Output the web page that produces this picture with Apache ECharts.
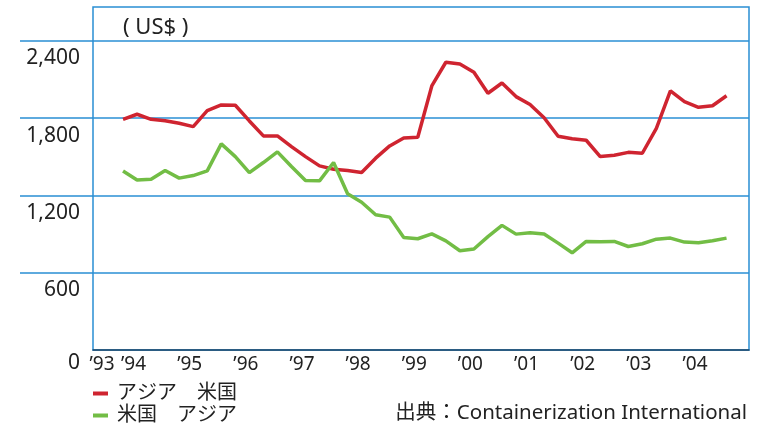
<!DOCTYPE html>
<html>
<head>
<meta charset="utf-8">
<script src="https://cdn.jsdelivr.net/npm/echarts@6/dist/echarts.min.js"></script>
<style>
  html, body { margin: 0; padding: 0; background: #fff; }
  #chart { width: 766px; height: 427px; }
</style>
</head>
<body>
<div id="chart"></div>
<script>
// 四半期ごとの運賃 (US$/TEU)  1994Q1 - 2004Q4
const asiaToUs = [
  1792, 1831, 1792, 1781, 1761, 1735, 1859, 1903, 1901, 1779, 1663, 1663,
  1580, 1502, 1430, 1404, 1394, 1378, 1490, 1585, 1647, 1653, 2051, 2235,
  2221, 2157, 1994, 2074, 1968, 1906, 1804, 1660, 1640, 1629, 1502, 1513,
  1535, 1528, 1722, 2012, 1929, 1885, 1897, 1975
]
const usToAsia = [
  1391, 1321, 1327, 1394, 1335, 1355, 1391, 1601, 1502, 1378, 1456, 1539,
  1425, 1316, 1314, 1456, 1213, 1148, 1050, 1032, 874, 864, 902, 848,
  771, 784, 881, 968, 900, 910, 901, 830, 755, 843, 840, 843,
  804, 825, 861, 869, 838, 833, 848, 869
]
const yearLabels = ['’93', '’94', '’95', '’96', '’97', '’98', '’99', '’00', '’01', '’02', '’03', '’04']
const yTicks = [0, 600, 1200, 1800, 2400]
const seriesNames = ['アジア　米国', '米国　アジア']

const chart = echarts.init(document.getElementById('chart'))

// 年ラベルの位置（四半期インデックス上）
const labelPos = yearLabels.map((_, k) => (k === 0 ? -1.5 : (k - 1) * 4 + 0.75))

const blue = '#2a8fd4'
const font = '"Noto Sans", "Noto Sans CJK JP", sans-serif'

chart.setOption({
  animation: false,
  title: {
    text: '( US$ )',
    left: 118,
    top: 12,
    textStyle: { fontFamily: font, fontSize: 22, fontWeight: 'normal', color: '#222' },
  },
  legend: {
    orient: 'vertical',
    left: 93,
    top: 383,
    height: 44,
    padding: 0,
    itemWidth: 15,
    itemHeight: 4,
    itemGap: 1,
    icon: 'rect',
    textStyle: { fontFamily: font, fontSize: 20, color: '#222', lineHeight: 21, padding: [0, 0, 0, 4] },
    data: seriesNames,
  },
  graphic: [{
    type: 'text',
    right: 19,
    top: 403,
    style: { text: '出典：Containerization International', fontFamily: font, fontSize: 20.5, fill: '#222' },
  }],
  grid: {
    left: 93, right: 17, top: 7, bottom: 77,
    show: true, borderColor: blue, borderWidth: 1.5,
  },
  xAxis: {
    type: 'value',
    min: -2.14,
    max: 44.6,
    axisLine: { show: true, onZero: false, lineStyle: { color: '#1d4466', width: 1.5 } },
    axisTick: { show: false },
    splitLine: { show: false },
    axisLabel: {
      customValues: labelPos,
      margin: 5,
      fontFamily: font,
      fontSize: 19,
      color: '#222',
      formatter: (v) => {
        let best = 0
        labelPos.forEach((p, i) => { if (Math.abs(p - v) < Math.abs(labelPos[best] - v)) best = i })
        return yearLabels[best]
      },
    },
  },
  yAxis: {
    type: 'value',
    min: 0,
    max: 2664,
    axisLine: { show: false, onZero: false },
    axisTick: {
      show: true,
      inside: false,
      customValues: yTicks.slice(1),
      length: 73,
      lineStyle: { color: blue, width: 1.5 },
    },
    splitLine: { show: true, lineStyle: { color: blue, width: 1.5 } },
    axisLabel: {
      customValues: yTicks,
      margin: 13,
      fontFamily: font,
      fontSize: 21,
      color: '#222',
      formatter: (v) => (v === 0 ? '{z|0}' : '{n|' + v.toLocaleString('en-US') + '}'),
      rich: {
        n: { fontFamily: font, fontSize: 21, color: '#222', padding: [35, 0, 0, 0] },
        z: { fontFamily: font, fontSize: 21, color: '#222', padding: [27, 0, 0, 0] },
      },
    },
  },
  series: [
    {
      name: seriesNames[0],
      type: 'line',
      showSymbol: false,
      color: '#cf2430',
      lineStyle: { width: 3.5, color: '#cf2430' },
      data: asiaToUs.map((v, i) => [i, v]),
    },
    {
      name: seriesNames[1],
      type: 'line',
      showSymbol: false,
      color: '#72bd45',
      lineStyle: { width: 3.5, color: '#72bd45' },
      data: usToAsia.map((v, i) => [i, v]),
    },
  ],
})
</script>
</body>
</html>
